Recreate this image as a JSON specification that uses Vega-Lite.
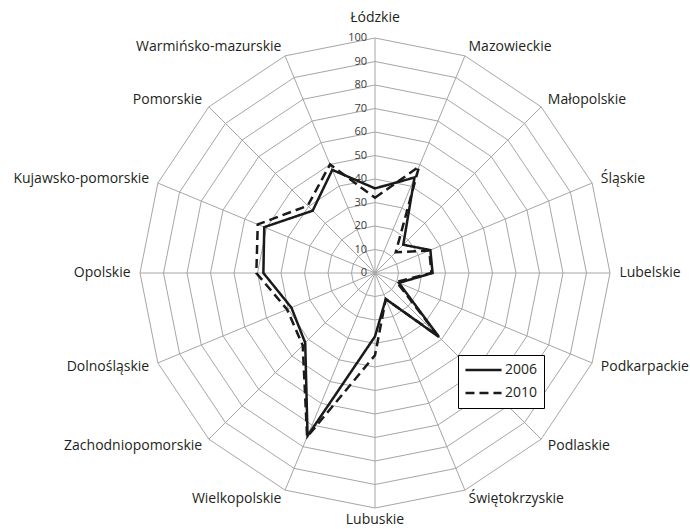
{
  "$schema": "https://vega.github.io/schema/vega-lite/v6.json",
  "autosize": "none",
  "width": 470,
  "height": 470,
  "padding": {"left": 140, "top": 38, "right": 80, "bottom": 21},
  "config": {"view": {"stroke": null}, "font": "Open Sans"},
  "datasets": {
    "regions": [
      {"k": 0, "region": "Łódzkie", "2006": 36, "2010": 32},
      {"k": 1, "region": "Mazowieckie", "2006": 44, "2010": 49},
      {"k": 2, "region": "Małopolskie", "2006": 17, "2010": 12.5},
      {"k": 3, "region": "Śląskie", "2006": 25.5, "2010": 25},
      {"k": 4, "region": "Lubelskie", "2006": 24.5, "2010": 24},
      {"k": 5, "region": "Podkarpackie", "2006": 11, "2010": 10},
      {"k": 6, "region": "Podlaskie", "2006": 38.5, "2010": 38},
      {"k": 7, "region": "Świętokrzyskie", "2006": 12, "2010": 12},
      {"k": 8, "region": "Lubuskie", "2006": 27, "2010": 35},
      {"k": 9, "region": "Wielkopolskie", "2006": 75, "2010": 75.5},
      {"k": 10, "region": "Zachodniopomorskie", "2006": 42, "2010": 43.5},
      {"k": 11, "region": "Dolnośląskie", "2006": 38.5, "2010": 40.5},
      {"k": 12, "region": "Opolskie", "2006": 47.5, "2010": 50.5},
      {"k": 13, "region": "Kujawsko-pomorskie", "2006": 51, "2010": 54},
      {"k": 14, "region": "Pomorskie", "2006": 37.5, "2010": 40.5},
      {"k": 15, "region": "Warmińsko-mazurskie", "2006": 47.5, "2010": 50}
    ],
    "rings": [
      {"ring": 10, "k": [0,1,2,3,4,5,6,7,8,9,10,11,12,13,14,15]},
      {"ring": 20, "k": [0,1,2,3,4,5,6,7,8,9,10,11,12,13,14,15]},
      {"ring": 30, "k": [0,1,2,3,4,5,6,7,8,9,10,11,12,13,14,15]},
      {"ring": 40, "k": [0,1,2,3,4,5,6,7,8,9,10,11,12,13,14,15]},
      {"ring": 50, "k": [0,1,2,3,4,5,6,7,8,9,10,11,12,13,14,15]},
      {"ring": 60, "k": [0,1,2,3,4,5,6,7,8,9,10,11,12,13,14,15]},
      {"ring": 70, "k": [0,1,2,3,4,5,6,7,8,9,10,11,12,13,14,15]},
      {"ring": 80, "k": [0,1,2,3,4,5,6,7,8,9,10,11,12,13,14,15]},
      {"ring": 90, "k": [0,1,2,3,4,5,6,7,8,9,10,11,12,13,14,15]},
      {"ring": 100, "k": [0,1,2,3,4,5,6,7,8,9,10,11,12,13,14,15]}
    ],
    "ticks": [
      {"t": 0}, {"t": 10}, {"t": 20}, {"t": 30}, {"t": 40}, {"t": 50},
      {"t": 60}, {"t": 70}, {"t": 80}, {"t": 90}, {"t": 100}
    ]
  },
  "layer": [
    {
      "data": {"name": "rings"},
      "transform": [
        {"flatten": ["k"]},
        {"calculate": "datum.ring * sin(datum.k * PI / 8)", "as": "gx"},
        {"calculate": "datum.ring * cos(datum.k * PI / 8)", "as": "gy"}
      ],
      "mark": {"type": "line", "interpolate": "linear-closed", "color": "#a6a6a6", "strokeWidth": 1},
      "encoding": {
        "x": {"field": "gx", "type": "quantitative", "scale": {"domain": [-100, 100], "nice": false, "zero": false}, "axis": null},
        "y": {"field": "gy", "type": "quantitative", "scale": {"domain": [-100, 100], "nice": false, "zero": false}, "axis": null},
        "detail": {"field": "ring", "type": "nominal"},
        "order": {"field": "k", "type": "quantitative"}
      }
    },
    {
      "data": {"name": "regions"},
      "transform": [
        {"calculate": "100 * sin(datum.k * PI / 8)", "as": "sx"},
        {"calculate": "100 * cos(datum.k * PI / 8)", "as": "sy"},
        {"calculate": "0", "as": "z"}
      ],
      "mark": {"type": "rule", "color": "#a6a6a6", "strokeWidth": 1},
      "encoding": {
        "x": {"field": "z", "type": "quantitative"},
        "y": {"field": "z", "type": "quantitative"},
        "x2": {"field": "sx"},
        "y2": {"field": "sy"}
      }
    },
    {
      "data": {"name": "ticks"},
      "transform": [{"calculate": "0", "as": "z"}],
      "mark": {"type": "text", "align": "right", "baseline": "middle", "dx": -8, "fontSize": 11, "fill": "#3a3a3a"},
      "encoding": {
        "x": {"field": "z", "type": "quantitative"},
        "y": {"field": "t", "type": "quantitative"},
        "text": {"field": "t", "type": "quantitative"}
      }
    },
    {
      "data": {"name": "regions"},
      "transform": [
        {"fold": ["2006", "2010"], "as": ["year", "value"]},
        {"calculate": "datum.value * sin(datum.k * PI / 8)", "as": "px"},
        {"calculate": "datum.value * cos(datum.k * PI / 8)", "as": "py"}
      ],
      "mark": {"type": "line", "interpolate": "linear-closed", "color": "#1a1a1a", "strokeWidth": 2.5},
      "encoding": {
        "x": {"field": "px", "type": "quantitative"},
        "y": {"field": "py", "type": "quantitative"},
        "order": {"field": "k", "type": "quantitative"},
        "strokeDash": {
          "field": "year",
          "type": "nominal",
          "scale": {"domain": ["2006", "2010"], "range": [[1, 0], [9, 5]]},
          "legend": {
            "title": null,
            "orient": "none",
            "legendX": 318,
            "legendY": 317,
            "strokeColor": "#000000",
            "fillColor": "#ffffff",
            "padding": 6,
            "symbolType": "stroke",
            "symbolSize": 1300,
            "symbolStrokeWidth": 2.5,
            "symbolStrokeColor": "#1a1a1a",
            "clipHeight": 18,
            "rowPadding": 5,
            "labelFontSize": 14,
            "labelColor": "#231f20",
            "labelOffset": 2
          }
        }
      }
    },
    {
      "data": {"name": "regions"},
      "transform": [
        {"filter": "datum.k >= 1 && datum.k <= 7"},
        {"calculate": "104 * sin(datum.k * PI / 8)", "as": "lx"},
        {"calculate": "104 * cos(datum.k * PI / 8)", "as": "ly"}
      ],
      "mark": {"type": "text", "align": "left", "baseline": "middle", "fontSize": 14, "fill": "#231f20"},
      "encoding": {
        "x": {"field": "lx", "type": "quantitative"},
        "y": {"field": "ly", "type": "quantitative"},
        "text": {"field": "region", "type": "nominal"}
      }
    },
    {
      "data": {"name": "regions"},
      "transform": [
        {"filter": "datum.k >= 9"},
        {"calculate": "104 * sin(datum.k * PI / 8)", "as": "lx"},
        {"calculate": "104 * cos(datum.k * PI / 8)", "as": "ly"}
      ],
      "mark": {"type": "text", "align": "right", "baseline": "middle", "fontSize": 14, "fill": "#231f20"},
      "encoding": {
        "x": {"field": "lx", "type": "quantitative"},
        "y": {"field": "ly", "type": "quantitative"},
        "text": {"field": "region", "type": "nominal"}
      }
    },
    {
      "data": {"name": "regions"},
      "transform": [
        {"filter": "datum.k == 0 || datum.k == 8"},
        {"calculate": "(datum.k == 0 ? 108.5 : 105.3) * cos(datum.k * PI / 8)", "as": "ly"},
        {"calculate": "0", "as": "z"}
      ],
      "mark": {"type": "text", "align": "center", "baseline": "middle", "fontSize": 14, "fill": "#231f20"},
      "encoding": {
        "x": {"field": "z", "type": "quantitative"},
        "y": {"field": "ly", "type": "quantitative"},
        "text": {"field": "region", "type": "nominal"}
      }
    }
  ]
}
